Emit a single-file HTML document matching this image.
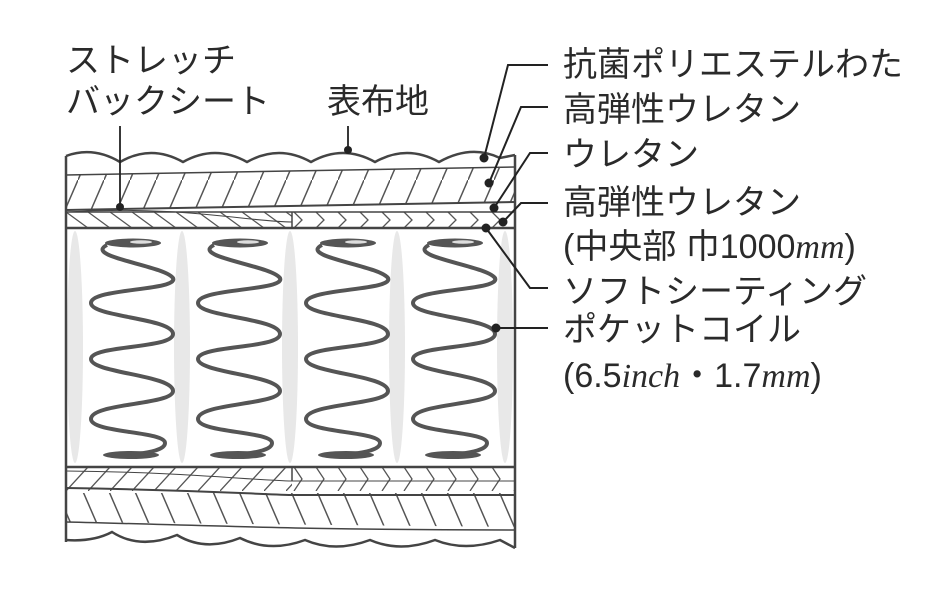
<!DOCTYPE html>
<html><head><meta charset="utf-8"><style>
html,body{margin:0;padding:0;background:#fff;}
svg{display:block;}
text{font-family:"Liberation Sans","Noto Sans CJK JP",sans-serif;fill:#2a2a2a;font-size:34px;}
</style></head><body>
<svg width="951" height="594" viewBox="0 0 951 594" xmlns="http://www.w3.org/2000/svg">
<defs>
<pattern id="fw" width="26" height="60" patternUnits="userSpaceOnUse"><path d="M0 60 L26 0" stroke="#555" stroke-width="1.5" fill="none"/></pattern>
<pattern id="bw" width="26" height="60" patternUnits="userSpaceOnUse"><path d="M0 0 L26 60" stroke="#555" stroke-width="1.5" fill="none"/></pattern>
<pattern id="bs" width="22" height="16" patternUnits="userSpaceOnUse" y="212"><path d="M0 0 L22 16" stroke="#555" stroke-width="1.3" fill="none"/></pattern>
<pattern id="ch" width="22" height="16" patternUnits="userSpaceOnUse" y="212"><path d="M8 0 L16 8 L8 16" stroke="#555" stroke-width="1.3" fill="none"/></pattern>
<pattern id="fs" width="22" height="24" patternUnits="userSpaceOnUse" y="467"><path d="M0 24 L22 0" stroke="#555" stroke-width="1.3" fill="none"/></pattern>
<pattern id="ch2" width="22" height="24" patternUnits="userSpaceOnUse" y="467"><path d="M8 0 L16 12 L8 24" stroke="#555" stroke-width="1.3" fill="none"/></pattern>
<g id="spring">
<ellipse cx="0" cy="0" rx="28" ry="4.5" fill="#555"/>
<ellipse cx="8" cy="-1" rx="11" ry="1.8" fill="#ddd"/>
<path d="M-26 2 C-50 14,30 22,40 35 C46 48,-42 45,-42 60 C-42 74,40 75,40 91 C40 106,-42 102,-42 116 C-42 130,40 132,40 148 C40 162,-42 160,-42 176 C-42 190,32 188,32 200" stroke="#555" stroke-width="4" fill="none"/>
<ellipse cx="-2" cy="212" rx="28" ry="4" fill="#555"/>
<path d="M32 200 C32 208,10 210,-2 212" stroke="#555" stroke-width="4" fill="none"/>
</g>
</defs>

<rect x="66" y="228" width="449" height="239" fill="#fff"/>
<g fill="#e8e8e8">
<ellipse cx="75" cy="347" rx="8" ry="116"/>
<ellipse cx="182" cy="347" rx="8" ry="116"/>
<ellipse cx="290" cy="347" rx="8" ry="116"/>
<ellipse cx="397" cy="347" rx="8" ry="116"/>
<ellipse cx="505" cy="347" rx="8" ry="116"/>
</g>
<use href="#spring" x="133" y="243"/>
<use href="#spring" x="240" y="243"/>
<use href="#spring" x="348" y="243"/>
<use href="#spring" x="455" y="243"/>

<polygon points="66,175 515,167 515,202 66,210" fill="url(#fw)"/>
<polygon points="66,212 292,212 292,228 66,228" fill="url(#bs)"/>
<polygon points="292,212 515,212 515,228 292,228" fill="url(#ch)"/>
<g stroke="#444" fill="none">
<path d="M66 175 L515 167" stroke-width="1.5"/>
<path d="M66 210 L515 202" stroke-width="2"/>
<path d="M66 212 L515 212" stroke-width="1.5"/>
<path d="M66 228 L515 228" stroke-width="2.5"/>
<path d="M292 212 L292 228" stroke-width="1.5"/>
<path d="M66 212 C180 205,250 222,292 222" stroke-width="1"/>
</g>
<path d="M66 156 Q93 146,120 162 Q151 144,183 162 Q215 144,247 162 Q279 144,311 162 Q343 144,375 162 Q407 144,439 162 Q471 144,500 158 L515 155" stroke="#444" stroke-width="2.5" fill="none"/>

<polygon points="66,467 292,467 292,491 66,491" fill="url(#fs)"/>
<polygon points="292,467 515,467 515,491 292,491" fill="url(#ch2)"/>
<polygon points="66,493 515,493 515,527 66,522" fill="url(#bw)"/>
<g stroke="#444" fill="none">
<path d="M66 467 L515 467" stroke-width="2.5"/>
<path d="M66 471 C180 472,250 480,292 481 L515 481" stroke-width="1"/>
<path d="M292 467 L292 481" stroke-width="1.5"/>
<path d="M66 488 C200 490,250 494,292 495 L515 495" stroke-width="2"/>
<path d="M66 522 C200 525,300 530,515 530" stroke-width="1.5"/>
</g>
<path d="M66 540 Q93 542,112 532 Q140 550,177 535 Q205 552,240 538 Q270 553,305 540 Q335 553,370 540 Q400 553,435 540 Q465 552,500 540 L515 548" stroke="#444" stroke-width="2.5" fill="none"/>

<path d="M66 156 L66 542 M515 155 L515 548" stroke="#444" stroke-width="2.5" fill="none"/>

<text x="66" y="72">ストレッチ</text>
<text x="66" y="113">バックシート</text>
<text x="327" y="113">表布地</text>
<path d="M120 126 L120 207" stroke="#222" stroke-width="1.8"/>
<circle cx="120" cy="207" r="4" fill="#222"/>
<path d="M348 126 L348 150" stroke="#222" stroke-width="1.8"/>
<circle cx="348" cy="150" r="4" fill="#222"/>

<g stroke="#222" stroke-width="2" fill="none">
<path d="M548 65 L508 65 L484 158"/>
<path d="M548 107 L521 107 L489 183"/>
<path d="M548 153 L530 153 L494 208"/>
<path d="M548 203 L521 203 L503 222"/>
<path d="M486 228 L530 288 L548 288"/>
<path d="M496 328 L548 328"/>
</g>
<g fill="#222">
<circle cx="484" cy="158" r="4.5"/>
<circle cx="489" cy="183" r="4.5"/>
<circle cx="494" cy="208" r="4.5"/>
<circle cx="503" cy="222" r="4.5"/>
<circle cx="486" cy="228" r="4.5"/>
<circle cx="496" cy="328" r="4.5"/>
</g>

<text x="563" y="76">抗菌ポリエステルわた</text>
<text x="563" y="121">高弾性ウレタン</text>
<text x="563" y="166">ウレタン</text>
<text x="563" y="214">高弾性ウレタン</text>
<text x="563" y="258">(中央部 巾1000<tspan font-family="Liberation Serif" font-style="italic">mm</tspan>)</text>
<text x="563" y="303">ソフトシーティング</text>
<text x="563" y="341">ポケットコイル</text>
<text x="563" y="387">(6.5<tspan font-family="Liberation Serif" font-style="italic">inch</tspan>・1.7<tspan font-family="Liberation Serif" font-style="italic">mm</tspan>)</text>
</svg>
</body></html>
